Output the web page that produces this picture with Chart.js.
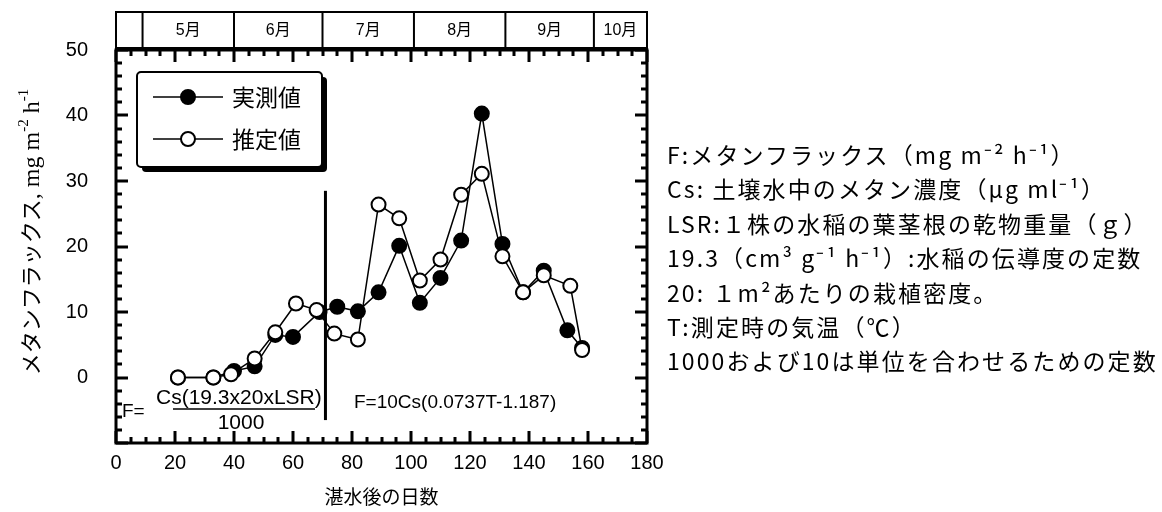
<!DOCTYPE html>
<html lang="ja">
<head>
<meta charset="utf-8">
<title>メタンフラックスの実測値と推定値</title>
<script src="https://cdn.jsdelivr.net/npm/chart.js@4.4.1/dist/chart.umd.min.js"></script>
<style>
    body { margin: 0; background: #fff; }
    #wrap { position: relative; width: 1162px; height: 512px; overflow: hidden; }
    #flux-chart { position: absolute; left: 0; top: 0; }
    #notes {
        position: absolute; left: 667px; top: 137px;
        font-family: "Noto Sans CJK JP", sans-serif; font-size: 23px;
        line-height: 34.4px; letter-spacing: 2.1px; color: #000; white-space: nowrap;
    }
</style>
</head>
<body>
<div id="wrap">
    <canvas id="flux-chart" width="690" height="512"></canvas>
    <div id="notes"></div>
</div>
<script>
// days after flooding where each month starts (top band)
const MONTH_NAMES  = ['', '5月', '6月', '7月', '8月', '9月', '10月'];
const MONTH_STARTS = [0, 9, 40, 70, 101, 132, 162];

// 実測値 (measured)
const OBS_DAYS = [21, 33, 40, 47, 54, 60, 69, 75, 82, 89, 96, 103, 110, 117, 124, 131, 138, 145, 153, 158];
const OBS_FLUX = [0, 0, 1.0, 1.7, 6.5, 6.2, 10.0, 10.8, 10.1, 13.0, 20.1, 11.4, 15.2, 20.9, 40.3, 20.4, 13.0, 16.3, 7.2, 4.5];

// 推定値 (estimated)
const EST_DAYS = [21, 33, 39, 47, 54, 61, 68, 74, 82, 89, 96, 103, 110, 117, 124, 131, 138, 145, 154, 158];
const EST_FLUX = [0, 0, 0.5, 2.9, 6.9, 11.3, 10.3, 6.7, 5.8, 26.4, 24.3, 14.8, 18.0, 27.9, 31.1, 18.5, 13.0, 15.6, 14.0, 4.2];

// vertical line between the two formulas
const DIVIDER_DAYS = [71, 71];
const DIVIDER_FLUX = [-6.5, 28.5];

const NOTES = [
    'F:メタンフラックス（mg m⁻² h⁻¹）',
    'Cs: 土壌水中のメタン濃度（μg ml⁻¹）',
    'LSR:１株の水稲の葉茎根の乾物重量（ｇ）',
    '19.3（cm³ g⁻¹ h⁻¹）:水稲の伝導度の定数',
    '20: １m²あたりの栽植密度。',
    'T:測定時の気温（℃）',
    '1000および10は単位を合わせるための定数',
];

const SANS = '"Liberation Sans", Arial, sans-serif';
const JP = '"Noto Sans CJK JP", sans-serif';
const SERIF = '"Liberation Serif", "DejaVu Serif", serif';

function toPoints(xs, ys) {
    return xs.map((x, i) => ({ x, y: ys[i] }));
}

// inward ticks on all four sides + the box
function drawTicks(ctx, area, x, y) {
    for (let d = 0; d <= 180; d += 5) {
        const px = Math.round(x.getPixelForValue(d));
        const len = d % 20 === 0 ? 12 : 6;
        ctx.fillRect(px - 1.5, area.bottom - len, 3, len);
        ctx.fillRect(px - 1.5, area.top, 3, len);
    }
    for (let v = -10; v <= 50; v += 2) {
        const py = Math.round(y.getPixelForValue(v));
        const len = v % 10 === 0 ? 12 : 6;
        ctx.fillRect(area.left, py - 1.5, len, 3);
        ctx.fillRect(area.right - len, py - 1.5, len, 3);
    }
    ctx.lineWidth = 3;
    ctx.strokeRect(area.left, area.top, area.width, area.height);
}

function drawMonthBand(ctx, area, x) {
    const top = 12, bottom = 48;
    ctx.lineWidth = 2;
    ctx.strokeRect(area.left, top, area.width, bottom - top);
    ctx.beginPath();
    MONTH_STARTS.slice(1).forEach(d => {
        const px = x.getPixelForValue(d);
        ctx.moveTo(px, top); ctx.lineTo(px, bottom);
    });
    ctx.stroke();
    ctx.font = `16px "Liberation Sans", "Noto Sans CJK JP"`;
    ctx.textAlign = 'center';
    ctx.textBaseline = 'middle';
    MONTH_NAMES.forEach((name, i) => {
        const end = i + 1 < MONTH_STARTS.length ? MONTH_STARTS[i + 1] : 180;
        const cx = (x.getPixelForValue(MONTH_STARTS[i]) + x.getPixelForValue(end)) / 2;
        ctx.fillText(name, cx, (top + bottom) / 2 + 1);
    });
}

function drawYTitle(ctx, cx, cy) {
    const parts = [
        { text: 'メタンフラックス', font: `22px ${JP}`, dy: 0 },
        { text: ', mg m', font: `24px ${SERIF}`, dy: 0 },
        { text: '-2', font: `15px ${SERIF}`, dy: -11 },
        { text: ' h', font: `24px ${SERIF}`, dy: 0 },
        { text: '-1', font: `15px ${SERIF}`, dy: -11 },
    ];
    ctx.save();
    ctx.translate(cx, cy);
    ctx.rotate(-Math.PI / 2);
    ctx.textBaseline = 'alphabetic';
    ctx.textAlign = 'left';
    let total = 0;
    parts.forEach(p => { ctx.font = p.font; p.w = ctx.measureText(p.text).width; total += p.w; });
    let pos = -total / 2;
    parts.forEach(p => {
        ctx.font = p.font;
        ctx.fillText(p.text, pos, p.dy);
        pos += p.w;
    });
    ctx.restore();
}

function drawFormulas(ctx) {
    ctx.textBaseline = 'middle';
    ctx.textAlign = 'left';
    ctx.font = `19px ${SANS}`;
    ctx.fillText('F=', 122, 412);
    ctx.fillText('F=10Cs(0.0737T-1.187)', 354, 403);
    ctx.font = `21px ${SANS}`;
    ctx.fillText('Cs(19.3x20xLSR)', 156, 398);
    ctx.textAlign = 'center';
    ctx.fillText('1000', 241, 423);
    ctx.lineWidth = 1.5;
    ctx.beginPath();
    ctx.moveTo(173, 409); ctx.lineTo(315, 409);
    ctx.stroke();
}

function drawLegend(ctx, datasets) {
    const box = { left: 137, top: 72, right: 322, bottom: 167 };
    const w = box.right - box.left, h = box.bottom - box.top;
    ctx.fillStyle = '#000';
    ctx.beginPath();
    ctx.roundRect(box.left + 5, box.top + 5, w, h, 4);
    ctx.fill();
    ctx.fillStyle = '#fff';
    ctx.strokeStyle = '#000';
    ctx.lineWidth = 2;
    ctx.beginPath();
    ctx.roundRect(box.left, box.top, w, h, 4);
    ctx.fill();
    ctx.stroke();

    const rows = [datasets[1], datasets[0]];
    rows.forEach((ds, i) => {
        const cy = 97 + i * 42;
        ctx.lineWidth = 1.5;
        ctx.beginPath();
        ctx.moveTo(153, cy); ctx.lineTo(223, cy);
        ctx.stroke();
        ctx.lineWidth = 2;
        ctx.fillStyle = ds.pointBackgroundColor;
        ctx.beginPath();
        ctx.arc(188, cy, 7, 0, Math.PI * 2);
        ctx.fill();
        ctx.stroke();
        ctx.fillStyle = '#000';
        ctx.font = `23px ${JP}`;
        ctx.textAlign = 'left';
        ctx.textBaseline = 'middle';
        ctx.fillText(ds.label, 232, cy);
    });
}

const framePlugin = {
    id: 'frame',
    afterDraw(chart) {
        const { ctx, chartArea: area, scales: { x, y } } = chart;
        ctx.save();
        ctx.strokeStyle = '#000';
        ctx.fillStyle = '#000';
        drawTicks(ctx, area, x, y);
        drawMonthBand(ctx, area, x);
        drawFormulas(ctx);
        drawLegend(ctx, chart.data.datasets);
        ctx.fillStyle = '#000';
        drawYTitle(ctx, 39, 232);
        ctx.restore();
    }
};

function renderNotes() {
    const el = document.getElementById('notes');
    el.innerHTML = NOTES.map(n => `<div>${n}</div>`).join('');
}

function renderChart() {
    const canvas = document.getElementById('flux-chart');
    const series = {
        showLine: true,
        borderColor: '#000',
        borderWidth: 1.5,
        pointRadius: 7,
        pointBorderWidth: 2,
        pointBorderColor: '#000',
    };
    new Chart(canvas, {
        type: 'scatter',
        data: {
            datasets: [
                { ...series, label: '推定値', data: toPoints(EST_DAYS, EST_FLUX),
                  pointBackgroundColor: '#fff', backgroundColor: '#fff', order: 0 },
                { ...series, label: '実測値', data: toPoints(OBS_DAYS, OBS_FLUX),
                  pointBackgroundColor: '#000', backgroundColor: '#000', order: 1 },
                { label: 'divider', data: toPoints(DIVIDER_DAYS, DIVIDER_FLUX), showLine: true,
                  borderColor: '#000', borderWidth: 3, pointRadius: 0, order: 2 },
            ]
        },
        options: {
            responsive: false,
            animation: false,
            layout: { padding: { top: 50, right: 43, left: 0, bottom: 0 } },
            plugins: { legend: { display: false }, tooltip: { enabled: false } },
            scales: {
                x: {
                    type: 'linear', min: 0, max: 180,
                    grid: { display: false, drawTicks: false },
                    border: { display: false },
                    ticks: { stepSize: 20, padding: 8, color: '#000', font: { family: SANS, size: 20 } },
                    title: { display: true, text: '湛水後の日数', color: '#000',
                             font: { family: JP, size: 19 }, padding: { top: 0, bottom: 4 } },
                    afterFit: s => { s.height = 69; }
                },
                y: {
                    min: -10, max: 50,
                    grid: { display: false, drawTicks: false },
                    border: { display: false },
                    ticks: { stepSize: 10, padding: 28, color: '#000', font: { family: SANS, size: 20 },
                             callback: v => v < 0 ? '' : v },
                    afterFit: s => { s.width = 116; }
                }
            }
        },
        plugins: [framePlugin]
    });
}

document.addEventListener('DOMContentLoaded', () => {
    renderNotes();
    renderChart();
});
</script>
</body>
</html>
